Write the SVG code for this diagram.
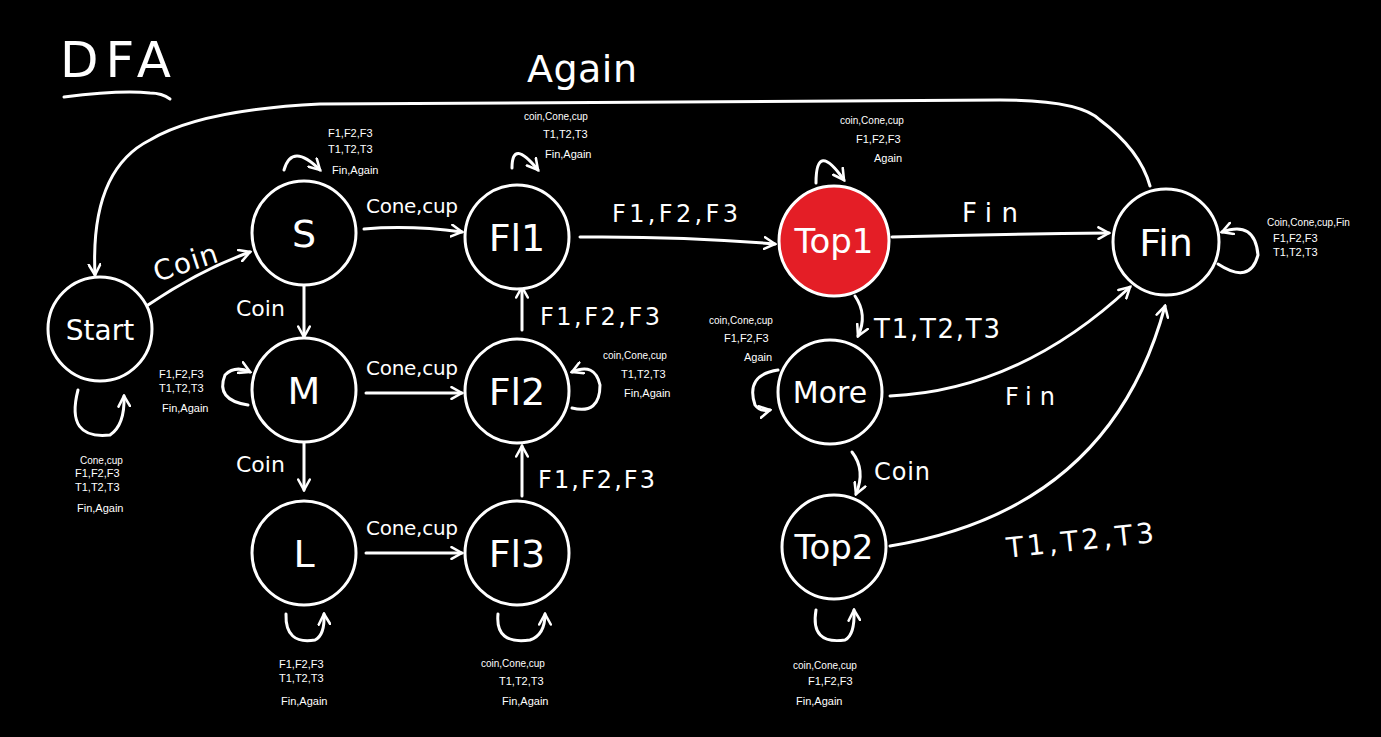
<svg xmlns="http://www.w3.org/2000/svg" width="1381" height="737" viewBox="0 0 1381 737">
<style>
.n{fill:#000;stroke:#fff;stroke-width:3}
.t{fill:#fff;font-family:"DejaVu Sans","Liberation Sans",sans-serif;text-anchor:middle}
.big{font-size:38px}
.e{fill:none;stroke:#fff;stroke-width:3;stroke-linecap:round}
.lb{fill:#fff;font-family:"DejaVu Sans","Liberation Sans",sans-serif;font-size:24px}
.s{fill:#fff;font-family:"Liberation Sans",sans-serif;font-size:11px}
.sm{font-size:10px}
</style>
<defs>
<marker id="a" viewBox="0 0 12 12" refX="10" refY="6" markerWidth="14" markerHeight="14" markerUnits="userSpaceOnUse" orient="auto">
<path d="M1,1 L10,6 L1,11" fill="none" stroke="#fff" stroke-width="2.2" stroke-linecap="round"/>
</marker>
</defs>
<rect width="1381" height="737" fill="#000"/>
<g id="title">
<text x="60" y="77" fill="#fff" font-family="DejaVu Sans,sans-serif" font-size="50" letter-spacing="7">DFA</text>
<path d="M64,97 Q120,90 150,93 Q162,93 170,99" class="e"/>
</g>
<g id="connectors">
<path class="e" marker-end="url(#a)" d="M148,305 Q200,270 250,252"/>
<text class="lb" x="150" y="272" transform="rotate(-18 185 255)" style="font-size:28px" textLength="66">Coin</text>
<path class="e" marker-end="url(#a)" d="M304,286 L304,337"/>
<text class="lb" x="236" y="316" style="font-size:22px">Coin</text>
<path class="e" marker-end="url(#a)" d="M304,443 L304,490"/>
<text class="lb" x="236" y="472" style="font-size:22px">Coin</text>
<path class="e" marker-end="url(#a)" d="M364,229 Q410,225 462,232"/>
<text class="lb" x="366" y="213" style="font-size:20px" textLength="92">Cone,cup</text>
<path class="e" marker-end="url(#a)" d="M366,393 L462,393"/>
<text class="lb" x="366" y="375" style="font-size:20px" textLength="92">Cone,cup</text>
<path class="e" marker-end="url(#a)" d="M366,553 L462,553"/>
<text class="lb" x="366" y="535" style="font-size:20px" textLength="92">Cone,cup</text>
<path class="e" marker-end="url(#a)" d="M522,496 L522,446"/>
<text class="lb" x="538" y="488" textLength="117">F1,F2,F3</text>
<path class="e" marker-end="url(#a)" d="M522,330 L522,287"/>
<text class="lb" x="540" y="325" textLength="120">F1,F2,F3</text>
<path class="e" marker-end="url(#a)" d="M580,237 Q680,236 775,244"/>
<text class="lb" x="612" y="222" textLength="126">F1,F2,F3</text>
<path class="e" marker-end="url(#a)" d="M892,237 Q1000,234 1109,233"/>
<text class="lb" x="962" y="222" style="font-size:26px" textLength="56">Fin</text>
<path class="e" marker-end="url(#a)" d="M855,296 Q868,315 858,336"/>
<text class="lb" x="874" y="338" style="font-size:26px" textLength="126">T1,T2,T3</text>
<path class="e" marker-end="url(#a)" d="M890,396 Q1020,390 1130,287"/>
<text class="lb" x="1005" y="405" textLength="50">Fin</text>
<path class="e" marker-end="url(#a)" d="M852,452 Q866,470 856,494"/>
<text class="lb" x="874" y="480" textLength="56">Coin</text>
<path class="e" marker-end="url(#a)" d="M890,546 Q1110,510 1165,306"/>
<text class="lb" x="1005" y="550" transform="rotate(-6 1080 530)" style="font-size:28px" textLength="148">T1,T2,T3</text>
<path class="e" marker-end="url(#a)" d="M1150,186 Q1140,150 1100,120 Q1080,100 1000,100 L320,104 Q200,110 150,140 Q90,170 95,275"/>
<text class="lb" x="527" y="82" style="font-size:38px" textLength="110">Again</text>
<path class="e" marker-end="url(#a)" d="M284,170 Q292,142 320,170"/>
<path class="e" marker-end="url(#a)" d="M512,168 Q512,138 538,170"/>
<path class="e" marker-end="url(#a)" d="M816,183 Q816,140 844,180"/>
<path class="e" marker-end="url(#a)" d="M1218,264 Q1250,285 1258,255 Q1255,220 1222,232"/>
<path class="e" marker-end="url(#a)" d="M248,405 Q215,400 225,375 Q235,365 250,372"/>
<path class="e" marker-end="url(#a)" d="M572,408 Q600,415 600,385 Q595,362 572,372"/>
<path class="e" marker-end="url(#a)" d="M778,370 Q745,375 755,405 Q760,412 770,410"/>
<path class="e" marker-end="url(#a)" d="M78,390 Q65,440 110,435 Q125,425 124,396"/>
<path class="e" marker-end="url(#a)" d="M286,614 Q285,645 315,640 Q325,635 324,614"/>
<path class="e" marker-end="url(#a)" d="M498,614 Q495,645 530,640 Q545,635 545,614"/>
<path class="e" marker-end="url(#a)" d="M816,610 Q810,645 845,640 Q855,635 854,610"/>
</g>
<g id="loopLabels">
<text class="s"><tspan x="328" y="137">F1,F2,F3</tspan><tspan x="328" y="153">T1,T2,T3</tspan><tspan x="332" y="174">Fin,Again</tspan></text>
<text class="s"><tspan x="524" y="120" class="sm">coin,Cone,cup</tspan><tspan x="543" y="138">T1,T2,T3</tspan><tspan x="545" y="158">Fin,Again</tspan></text>
<text class="s"><tspan x="840" y="124" class="sm">coin,Cone,cup</tspan><tspan x="856" y="143">F1,F2,F3</tspan><tspan x="874" y="162">Again</tspan></text>
<text class="s"><tspan x="1267" y="226" class="sm">Coin,Cone,cup,Fin</tspan><tspan x="1273" y="242">F1,F2,F3</tspan><tspan x="1273" y="256">T1,T2,T3</tspan></text>
<text class="s"><tspan x="159" y="378">F1,F2,F3</tspan><tspan x="159" y="392">T1,T2,T3</tspan><tspan x="162" y="412">Fin,Again</tspan></text>
<text class="s"><tspan x="603" y="359" class="sm">coin,Cone,cup</tspan><tspan x="621" y="378">T1,T2,T3</tspan><tspan x="624" y="397">Fin,Again</tspan></text>
<text class="s"><tspan x="709" y="324" class="sm">coin,Cone,cup</tspan><tspan x="724" y="342">F1,F2,F3</tspan><tspan x="744" y="361">Again</tspan></text>
<text class="s"><tspan x="80" y="464" class="sm">Cone,cup</tspan><tspan x="75" y="477">F1,F2,F3</tspan><tspan x="75" y="491">T1,T2,T3</tspan><tspan x="77" y="512">Fin,Again</tspan></text>
<text class="s"><tspan x="279" y="668">F1,F2,F3</tspan><tspan x="279" y="682">T1,T2,T3</tspan><tspan x="281" y="705">Fin,Again</tspan></text>
<text class="s"><tspan x="481" y="667" class="sm">coin,Cone,cup</tspan><tspan x="499" y="685">T1,T2,T3</tspan><tspan x="502" y="705">Fin,Again</tspan></text>
<text class="s"><tspan x="793" y="669" class="sm">coin,Cone,cup</tspan><tspan x="808" y="685">F1,F2,F3</tspan><tspan x="796" y="705">Fin,Again</tspan></text>
</g>
<g id="Start"><circle class="n" cx="100" cy="329" r="52"/><text class="t" x="100" y="340" style="font-size:28px">Start</text></g>
<g id="S"><circle class="n" cx="304" cy="233" r="52"/><text class="t big" x="304" y="247">S</text></g>
<g id="M"><circle class="n" cx="304" cy="390" r="52"/><text class="t big" x="304" y="404">M</text></g>
<g id="L"><circle class="n" cx="304" cy="553" r="52"/><text class="t big" x="304" y="567">L</text></g>
<g id="Fl1"><circle class="n" cx="517" cy="237" r="52"/><text class="t big" x="517" y="251">Fl1</text></g>
<g id="Fl2"><circle class="n" cx="517" cy="391" r="52"/><text class="t big" x="517" y="405">Fl2</text></g>
<g id="Fl3"><circle class="n" cx="517" cy="553" r="52"/><text class="t big" x="517" y="567">Fl3</text></g>
<g id="Top1"><circle cx="834" cy="241" r="55" fill="#e41e26" stroke="#fff" stroke-width="3"/><text class="t" x="834" y="253" style="font-size:34px">Top1</text></g>
<g id="More"><circle class="n" cx="830" cy="392" r="52"/><text class="t" x="830" y="403" style="font-size:30px">More</text></g>
<g id="Top2"><circle class="n" cx="834" cy="547" r="52"/><text class="t" x="834" y="559" style="font-size:34px">Top2</text></g>
<g id="Fin"><circle class="n" cx="1166" cy="242" r="53"/><text class="t big" x="1166" y="256">Fin</text></g>
</svg>
